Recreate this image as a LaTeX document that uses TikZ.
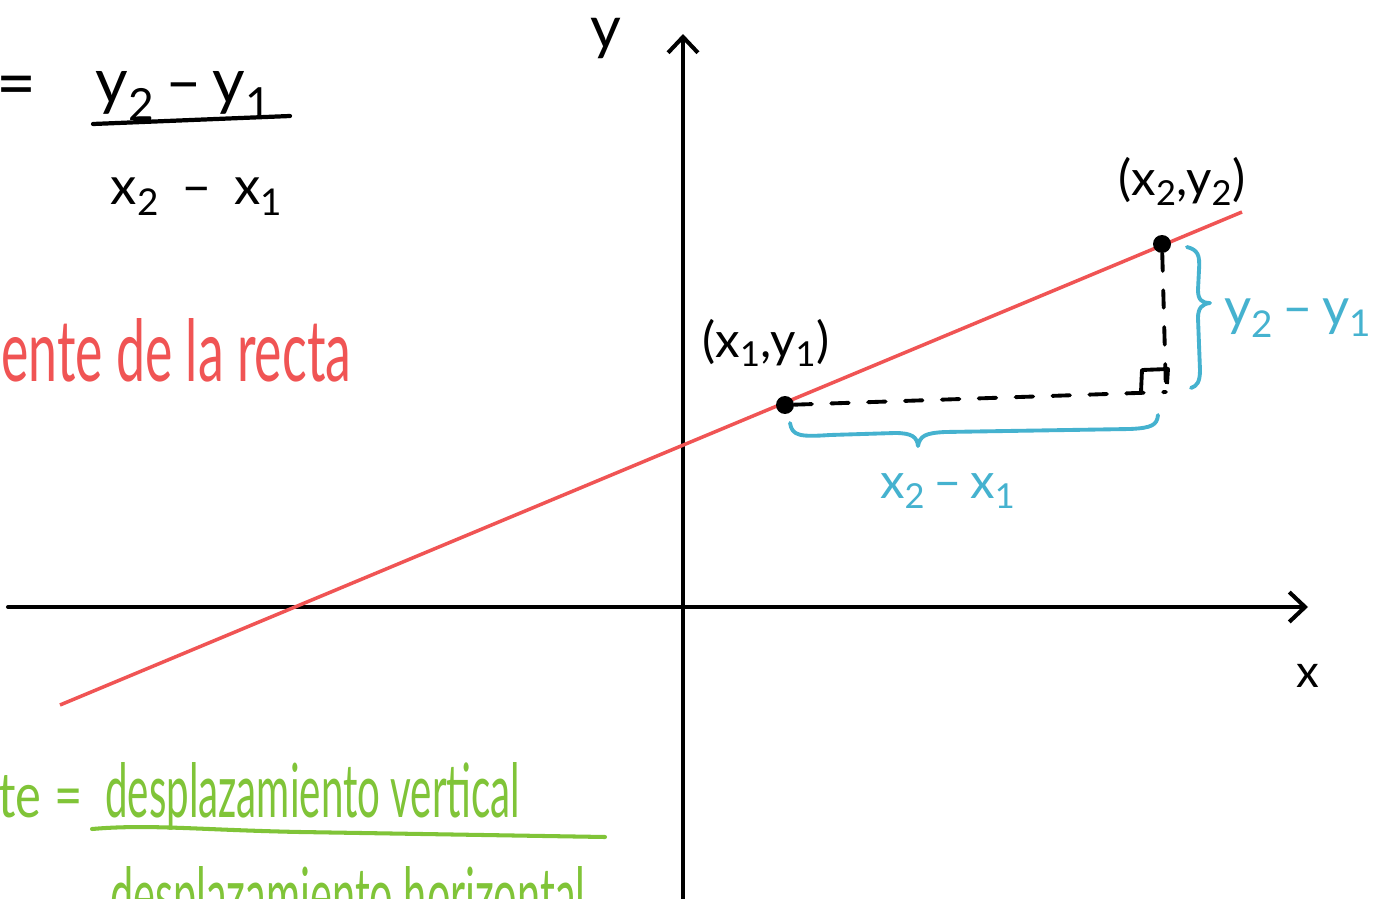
\documentclass[tikz,border=0pt]{standalone}
\usepackage{fontspec}
\usepackage{graphicx}
\setmainfont{Lato}
\usetikzlibrary{arrows.meta}
\definecolor{lred}{RGB}{240,84,84}
\definecolor{lblue}{RGB}{69,178,207}
\definecolor{lgreen}{RGB}{128,196,56}
\newcommand{\fs}[1]{\fontsize{#1}{#1}\selectfont}
\tikzset{
  axis/.style={line width=2.3pt, line cap=round, -{Straight Barb[length=9pt,width=17pt,line width=2.3pt]}},
  redline/.style={lred, line width=2pt},
  dot/.style={circle, fill=black, inner sep=0pt, minimum size=0.36cm},
  dashline/.style={line width=2.2pt, line cap=round, dash pattern=on 10pt off 11pt},
  bracestroke/.style={lblue, line width=2.2pt, line cap=round, line join=round},
  lab/.style={inner sep=0pt, text=black},
  bluelab/.style={inner sep=0pt, text=lblue},
}
\begin{document}
\begin{tikzpicture}[x=0.02cm,y=-0.02cm]
\useasboundingbox (0,0) rectangle (1374,899);
\clip (0,0) rectangle (1374,899);
\fill[white] (0,0) rectangle (1374,899);

% axes
\coordinate (ybot) at (683,905);
\coordinate (ytop) at (683,34);
\coordinate (xl) at (8,607);
\coordinate (xr) at (1308,607);
\draw[axis] (ybot) -- (ytop);
\draw[axis] (xl) -- (xr);
\node[lab, font=\fs{34pt}] (ylab) at (606,38) {y};
\node[lab, font=\fs{26pt}] (xlab) at (1308,676) {x};

% red line
\coordinate (ra) at (60,705);
\coordinate (rb) at (1242,212);
\draw[redline] (ra) -- (rb);

% points
\node[dot] (p1) at (785,405) {};
\node[dot] (p2) at (1162,244) {};
\coordinate (c) at (1166,392);
\draw[dashline] (p1) -- (c);
\draw[dashline] (p2) -- (c);
\draw[line width=2.2pt, line join=round] (c) ++(-25,0) -- ++(1,-22) -- ++(26,-1) -- ++(-1,15);

\node[lab, font=\fs{28pt}] (l1) at (766,343) {(x\textsubscript{1},y\textsubscript{1})};
\node[lab, font=\fs{28pt}] (l2) at (1182,181) {(x\textsubscript{2},y\textsubscript{2})};

% braces
\draw[bracestroke] (790,423) .. controls (792,436) and (800,437) .. (830,435)
  -- (895,433) .. controls (912,433) and (917,437) .. (918,446)
  .. controls (920,436) and (925,433) .. (945,432)
  -- (1130,429) .. controls (1152,428) and (1157,425) .. (1158,415);
\draw[bracestroke] (1187,247) .. controls (1198,250) and (1200,255) .. (1199,270)
  -- (1198,290) .. controls (1198,300) and (1202,303) .. (1210,303)
  .. controls (1202,304) and (1198,308) .. (1198,318)
  -- (1200,370) .. controls (1200,382) and (1197,386) .. (1191,388);
\node[bluelab, font=\fs{28pt}] (dx) at (948,491) {x\textsubscript{2}\,–\,x\textsubscript{1}};
\node[bluelab, font=\fs{30pt}] (dy) at (1298,318) {y\textsubscript{2}\,–\,y\textsubscript{1}};

% formula top-left
\node[lab, anchor=west] (eq) at (-4,92) {\resizebox{0.8cm}{!}{\fs{34pt}=}};
\node[lab, font=\fs{36pt}, anchor=base] (num) at (184,103) {y\textsubscript{2}\,–\,y\textsubscript{1}};
\node[lab, font=\fs{30pt}, anchor=base] (den) at (197,204) {x\textsubscript{2}\, – \,x\textsubscript{1}};
\draw[line width=2.4pt, line cap=round] (93,124) -- (290,116);

% red text
\node[inner sep=0pt, anchor=base west, text=lred] (rt) at (1,381)
  {\resizebox{7.0cm}{1.26cm}{ente de la recta}};

% green text
\node[inner sep=0pt, anchor=base west, text=lgreen] (gt1) at (-2,817)
  {\resizebox{1.68cm}{0.84cm}{te =}};
\node[inner sep=0pt, anchor=base west, text=lgreen] (gt2) at (105,817)
  {\resizebox{8.3cm}{1.1cm}{desplazamiento vertical}};
\draw[lgreen, line width=2.3pt, line cap=round] (92,829) .. controls (150,824) and (200,830) .. (300,832) -- (605,837);
\node[inner sep=0pt, anchor=base west, text=lgreen] (gt3) at (110,921)
  {\resizebox{9.5cm}{1.1cm}{desplazamiento horizontal}};
\end{tikzpicture}
\end{document}
